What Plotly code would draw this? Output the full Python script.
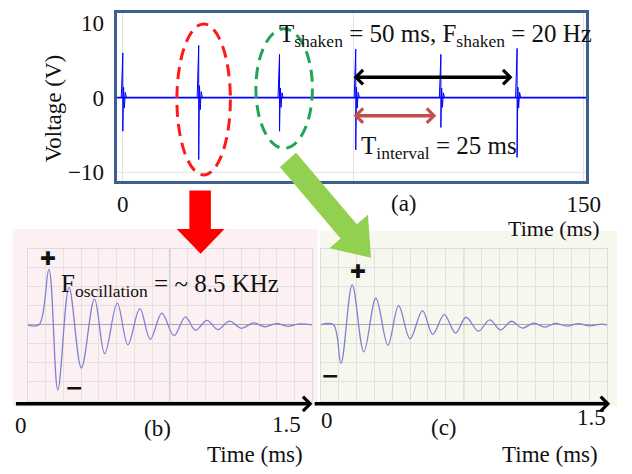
import plotly.graph_objects as go

W, H = 632, 474
SERIF = "Liberation Serif"

# ---------------- data ----------------
# (a) impact spikes: time (ms), positive peak (V), negative peak (V), ringing near 0 (V)
spike_time_ms = [0.0, 24.7, 51.0, 75.8, 103.5, 128.3]
spike_peak_v = [6.0, 7.0, 5.8, 6.5, 5.8, 6.6]
spike_trough_v = [-4.5, -8.3, -4.5, -7.0, -4.0, -8.0]
spike_ring_v = [1.4, 1.6, 1.3, 1.4, 1.3, 1.4]

a_time_range = [-2.0, 150.8]
a_volt_range = [-11.2, 11.3]
a_yticks = [-10, 0, 10]
a_xticks = [0, 75, 150]
a_xticklabels = ["0", "", "150"]

# (b) oscillation (red-circled event): extrema, time (ms) / amplitude (grid units)
b_time_ms = [0.0, 0.060, 0.112, 0.159, 0.218, 0.283, 0.352, 0.406, 0.472, 0.528,
             0.591, 0.646, 0.707, 0.771, 0.831, 0.884, 0.945, 1.002, 1.063, 1.125,
             1.19, 1.25, 1.31, 1.37, 1.43, 1.5]
b_amp = [0, 0, 2.92, -3.43, 1.97, -2.27, 1.37, -1.52, 1.14, -1.05,
         0.85, -0.76, 0.62, -0.57, 0.42, -0.28, 0.24, -0.25, 0.2, -0.18,
         0.1, -0.1, 0.07, -0.08, 0.05, 0]

# (c) oscillation (green-circled event)
c_time_ms = [0.0, 0.068, 0.107, 0.166, 0.227, 0.290, 0.353, 0.409, 0.469, 0.534,
             0.588, 0.648, 0.707, 0.762, 0.827, 0.886, 0.943, 1.000, 1.057, 1.116,
             1.175, 1.23, 1.29, 1.35, 1.41, 1.47, 1.5]
c_amp = [0, 0, -2.03, 2.10, -1.42, 1.40, -1.07, 1.01, -0.73, 0.75,
         -0.50, 0.54, -0.43, 0.40, -0.33, 0.26, -0.26, 0.19, -0.17, 0.09,
         -0.12, 0.08, -0.07, 0.06, -0.05, 0.04, 0]

osc_range_ms = [0, 1.5]
osc_range_amp = [-4, 4]


def px(x):
    return x / W


def py(y):
    return 1 - y / H


fig = go.Figure()

# ---- (a) spikes ----
xs, ys = [], []
for t, up, dn, r in zip(spike_time_ms, spike_peak_v, spike_trough_v, spike_ring_v):
    xs += [t - 0.5, t, t, t + 0.25, t + 0.5, t + 0.8, t + 1.2, None]
    ys += [0, up, dn, r, -r, 0.5 * r, 0, None]
fig.add_trace(go.Scatter(x=a_time_range, y=[0, 0], mode="lines",
                         line=dict(color="#0000ff", width=1.6),
                         xaxis="x", yaxis="y", hoverinfo="skip", showlegend=False))
fig.add_trace(go.Scatter(x=xs, y=ys, mode="lines",
                         line=dict(color="#0000ff", width=1),
                         xaxis="x", yaxis="y", hoverinfo="skip", showlegend=False))

# ---- (b) and (c) waveforms ----
wave_color = "#7f80d2"
fig.add_trace(go.Scatter(x=b_time_ms, y=b_amp, mode="lines",
                         line=dict(color=wave_color, width=1.3, shape="spline", smoothing=1),
                         xaxis="x2", yaxis="y2", hoverinfo="skip", showlegend=False))
fig.add_trace(go.Scatter(x=c_time_ms, y=c_amp, mode="lines",
                         line=dict(color=wave_color, width=1.3, shape="spline", smoothing=1),
                         xaxis="x3", yaxis="y3", hoverinfo="skip", showlegend=False))

tickfont = dict(family=SERIF, size=23, color="#111111")
box_blue = "#3b5f8e"


def osc_axes(dom_x, anchor):
    xa = dict(domain=dom_x, range=osc_range_ms, tick0=0, dtick=0.09375,
              showticklabels=False, ticks="", showgrid=True, gridcolor="#e3e0e0",
              gridwidth=1, zeroline=False, showline=True, mirror=True,
              linecolor="#dcdcdc", linewidth=1, anchor=anchor[1], fixedrange=True)
    ya = dict(domain=[py(404), py(250)], range=osc_range_amp, tick0=0, dtick=1,
              showticklabels=False, ticks="", showgrid=True, gridcolor="#e3e0e0",
              zeroline=True, zerolinecolor="#a8a8a8", zerolinewidth=1,
              showline=True, mirror=True, linecolor="#dcdcdc", linewidth=1,
              anchor=anchor[0], fixedrange=True)
    return xa, ya


xa2, ya2 = osc_axes([px(28.3), px(320)], ("x2", "y2"))
xa3, ya3 = osc_axes([px(328.3), px(621.7)], ("x3", "y3"))

shapes = [
    # panel backgrounds
    dict(type="rect", xref="paper", yref="paper", x0=px(13), x1=px(325), y0=py(410), y1=py(230),
         fillcolor="#fcf0f3", line=dict(width=0), layer="below"),
    dict(type="rect", xref="paper", yref="paper", x0=px(328), x1=px(632), y0=py(410), y1=py(232),
         fillcolor="#f6f7ed", line=dict(width=0), layer="below"),
    # centre grid lines
    dict(type="line", xref="x2", yref="y2 domain", x0=0.75, x1=0.75, y0=0, y1=1,
         line=dict(color="#a8a8a8", width=1), layer="below"),
    dict(type="line", xref="x3", yref="y3 domain", x0=0.75, x1=0.75, y0=0, y1=1,
         line=dict(color="#a8a8a8", width=1), layer="below"),
    # faint grid line near the bottom of (a)
    dict(type="line", xref="x domain", yref="y", x0=0, x1=1, y0=-10, y1=-10,
         line=dict(color="#e2e2e2", width=1), layer="below"),
    # dashed ellipses
    dict(type="circle", xref="x", yref="y", x0=17.6, x1=35.0, y0=-10.36, y1=9.88,
         line=dict(color="#ff1a1a", width=3, dash="12px,7px")),
    dict(type="circle", xref="x", yref="y", x0=43.3, x1=61.7, y0=-6.79, y1=9.22,
         line=dict(color="#1fa655", width=3, dash="12px,7px")),
]

# big red arrow (pixel outline -> paper)
red_pts = [(194, 191), (216, 191), (216, 230), (230, 230), (205.5, 255), (181, 230), (194, 230)]
path = "M " + " L ".join(f"{px(x):.5f},{py(y):.5f}" for x, y in red_pts) + " Z"
shapes.append(dict(type="path", xref="paper", yref="paper", path=path,
                   fillcolor="#ff0000", line=dict(width=0)))

# big green arrow
green_pts = [(303.3, 152.8), (365.5, 225.2), (376.9, 215.5), (380, 259),
             (337.5, 249.3), (348.9, 239.6), (286.7, 167.2)]
path = "M " + " L ".join(f"{px(x):.5f},{py(y):.5f}" for x, y in green_pts) + " Z"
shapes.append(dict(type="path", xref="paper", yref="paper", path=path,
                   fillcolor="#92d050", line=dict(width=0)))

ann = []


def txt(x, y, s, size=23, xanchor="center", yanchor="middle", angle=0, family=SERIF, color="#111111"):
    ann.append(dict(x=px(x), y=py(y), xref="paper", yref="paper", text=s, showarrow=False,
                    xanchor=xanchor, yanchor=yanchor, textangle=angle,
                    font=dict(family=family, size=size, color=color)))


txt(55, 108, "Voltage (V)", angle=-90)
txt(414, 204, "(a)")
txt(616, 229, "Time (ms)", size=22, xanchor="right")
txt(284, 34, "T<sub>shaken</sub> = 50 ms, F<sub>shaken</sub> = 20 Hz", size=25, xanchor="left")
txt(368, 147, "T<sub>interval</sub> = 25 ms", size=25, xanchor="left")

# (b) labels
txt(21, 429, "0")
txt(161, 432, "(b)")
txt(293, 428, "1.5")
txt(312, 458, "Time (ms)", xanchor="right")
txt(60, 287, "F<sub>oscillation</sub> = ~ 8.5 KHz", size=25, xanchor="left")
txt(49.3, 259.3, "✚", size=19, family="DejaVu Sans", color="#111111")
txt(76, 390.7, "<b>−</b>", size=22, family="DejaVu Sans", color="#111111")

# (c) labels
txt(335, 424, "0")
txt(455, 431, "(c)")
txt(606, 421, "1.5")
txt(615, 458, "Time (ms)", xanchor="right")
txt(366.7, 272.7, "✚", size=19, family="DejaVu Sans", color="#111111")
txt(338.3, 378.3, "<b>−</b>", size=22, family="DejaVu Sans", color="#111111")

# double arrows in (a)
ann.append(dict(x=126.8, y=2.74, ax=74.6, ay=2.74, xref="x", yref="y", axref="x", ayref="y",
                text="", showarrow=True, arrowhead=4, arrowside="end+start", arrowsize=0.8,
                arrowwidth=3.5, arrowcolor="#000000", standoff=0, startstandoff=0))
ann.append(dict(x=102.0, y=-2.42, ax=74.6, ay=-2.42, xref="x", yref="y", axref="x", ayref="y",
                text="", showarrow=True, arrowhead=4, arrowside="end+start", arrowsize=0.8,
                arrowwidth=3.5, arrowcolor="#c0504d", standoff=0, startstandoff=0))

# time-axis arrows under (b) and (c)
ann.append(dict(x=px(320), y=py(407), xref="paper", yref="paper", ax=-(320 - 22), ay=0,
                text="", showarrow=True, arrowhead=4, arrowsize=0.8, arrowwidth=3.5,
                arrowcolor="#000000", standoff=0, startstandoff=0))
ann.append(dict(x=px(625), y=py(407), xref="paper", yref="paper", ax=-(625 - 328), ay=0,
                text="", showarrow=True, arrowhead=4, arrowsize=0.8, arrowwidth=3.5,
                arrowcolor="#000000", standoff=0, startstandoff=0))

fig.update_layout(
    width=W, height=H, margin=dict(l=0, r=0, t=0, b=0),
    paper_bgcolor="white", plot_bgcolor="rgba(0,0,0,0)",
    showlegend=False,
    xaxis=dict(domain=[px(119.5), px(600.5)], range=a_time_range, tickvals=a_xticks,
               ticktext=a_xticklabels, ticks="", showgrid=True, gridcolor="#e2e2e2",
               zeroline=False, showline=True, mirror=True, linecolor=box_blue, linewidth=3,
               tickfont=tickfont, ticklabelstandoff=0, anchor="y", fixedrange=True),
    yaxis=dict(domain=[py(181.5), py(11.5)], range=a_volt_range, tickvals=a_yticks,
               ticks="", showgrid=False, zeroline=False,
               showline=True, mirror=True, linecolor=box_blue, linewidth=3,
               tickfont=tickfont, ticklabelstandoff=5, anchor="x", fixedrange=True),
    xaxis2=xa2, yaxis2=ya2, xaxis3=xa3, yaxis3=ya3,
    shapes=shapes, annotations=ann,
)

fig.write_html(
    "out.html",
    config={"displayModeBar": False},
    post_script="document.body.style.margin='0px';document.body.style.overflow='hidden';",
)
